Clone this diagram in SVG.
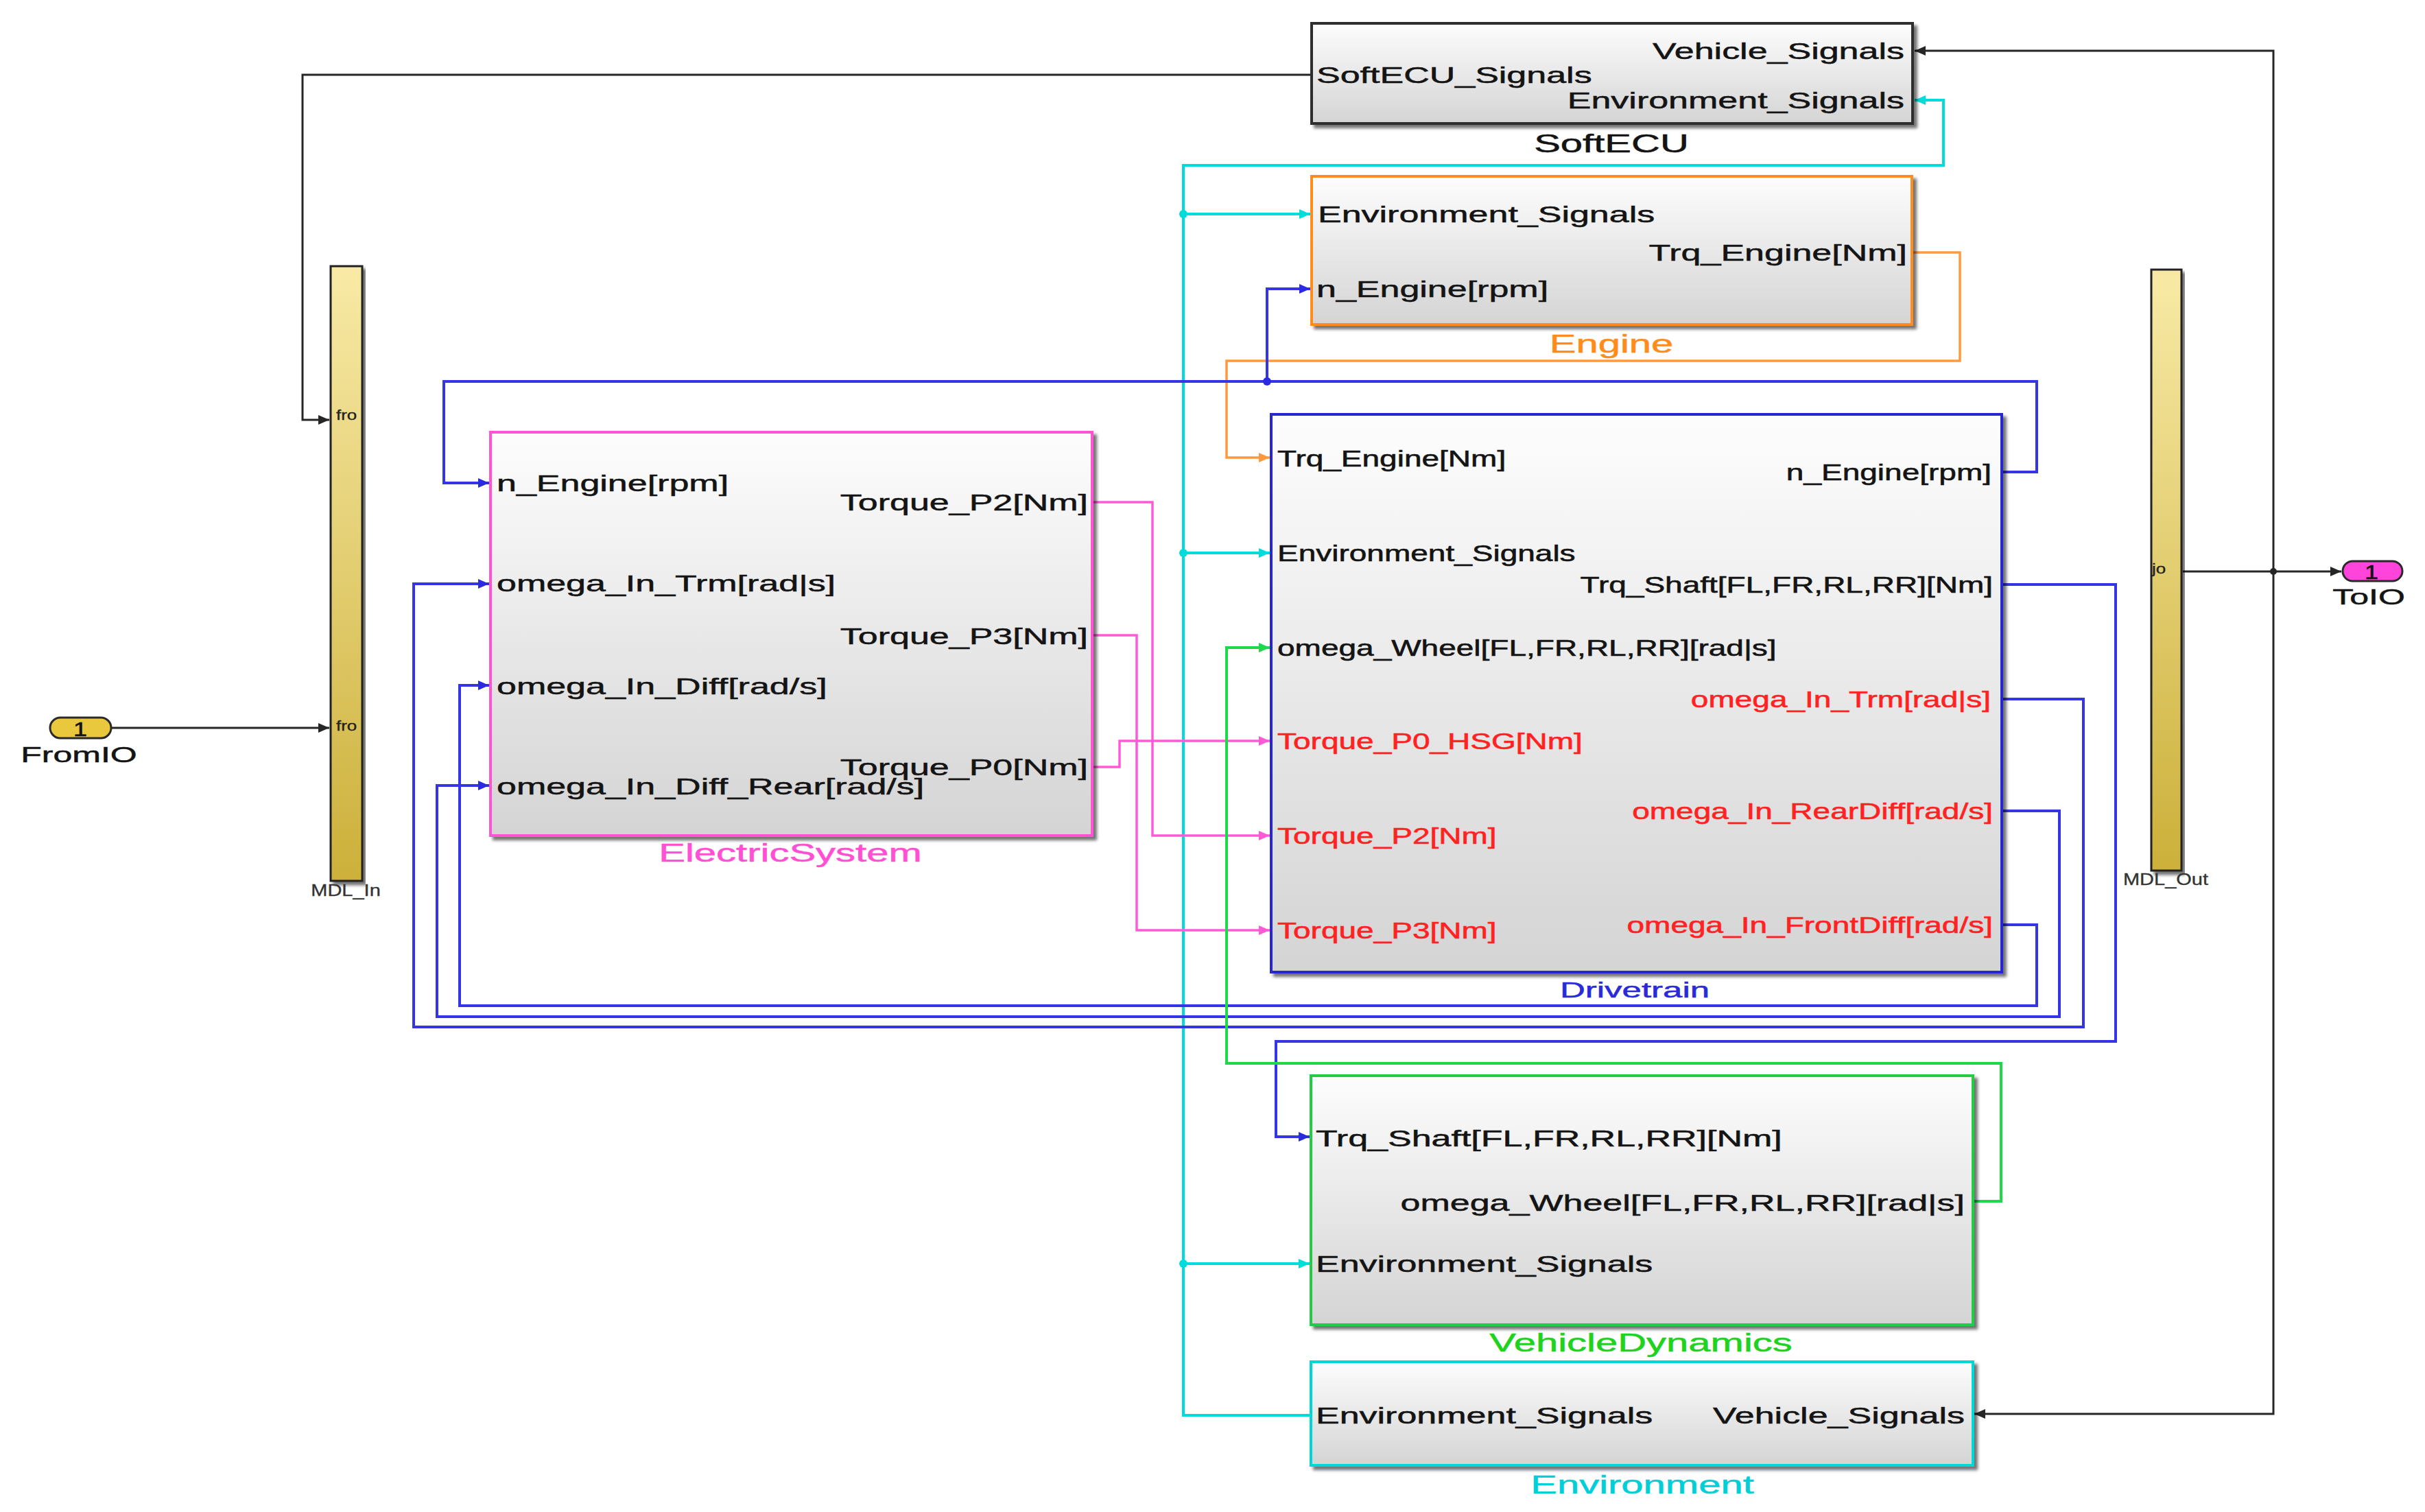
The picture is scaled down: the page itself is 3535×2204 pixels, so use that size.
<svg xmlns="http://www.w3.org/2000/svg" width="3535" height="2204" viewBox="0 0 3535 2204">
<style>
text{font-family:"Liberation Sans",Arial,sans-serif;fill:#141414;stroke:#141414;stroke-width:0.8}
.l{font-size:52px}
.d{font-size:46px}
.ti{font-size:58px}
.e{text-anchor:end}
.m{text-anchor:middle}
.red{fill:#ff2222;stroke:#ff2222}
.blk{fill:url(#gb);stroke-width:4}
.bar{fill:url(#gy);stroke:#222;stroke-width:3}
.w{fill:none;stroke-linejoin:miter}
.k{stroke:#262626;stroke-width:3}
.c{stroke:#00dcdc;stroke-width:4}
.o{stroke:#ff9a3c;stroke-width:3.5}
.b{stroke:#3535e6;stroke-width:4}
.p{stroke:#ff5ad6;stroke-width:3.5}
.g{stroke:#1ed84a;stroke-width:4}
.sm{font-size:29px;fill:#333;stroke:#333;stroke-width:0.4}
.pt{font-size:26px;fill:#222;stroke-width:0.4}
</style>
<defs>
<linearGradient id="gb" x1="0" y1="0" x2="0" y2="1"><stop offset="0" stop-color="#fdfdfd"/><stop offset="1" stop-color="#d4d4d4"/></linearGradient>
<linearGradient id="gy" x1="0" y1="0" x2="0" y2="1"><stop offset="0" stop-color="#f8eaa6"/><stop offset="1" stop-color="#ccb03a"/></linearGradient>
<filter id="sh" x="-5%" y="-5%" width="115%" height="115%"><feDropShadow dx="5" dy="5" stdDeviation="2" flood-color="#000" flood-opacity="0.55"/></filter>
<marker id="ak" markerUnits="userSpaceOnUse" markerWidth="18" markerHeight="14" refX="16" refY="7" orient="auto"><path d="M0,0 L16,7 L0,14 z" fill="#262626"/></marker>
<marker id="ac" markerUnits="userSpaceOnUse" markerWidth="18" markerHeight="14" refX="16" refY="7" orient="auto"><path d="M0,0 L16,7 L0,14 z" fill="#00dcdc"/></marker>
<marker id="ao" markerUnits="userSpaceOnUse" markerWidth="18" markerHeight="14" refX="16" refY="7" orient="auto"><path d="M0,0 L16,7 L0,14 z" fill="#ff9a3c"/></marker>
<marker id="ab" markerUnits="userSpaceOnUse" markerWidth="18" markerHeight="14" refX="16" refY="7" orient="auto"><path d="M0,0 L16,7 L0,14 z" fill="#2a2ae0"/></marker>
<marker id="ap" markerUnits="userSpaceOnUse" markerWidth="18" markerHeight="14" refX="16" refY="7" orient="auto"><path d="M0,0 L16,7 L0,14 z" fill="#ff5ad6"/></marker>
<marker id="ag" markerUnits="userSpaceOnUse" markerWidth="18" markerHeight="14" refX="16" refY="7" orient="auto"><path d="M0,0 L16,7 L0,14 z" fill="#1ed84a"/></marker>
</defs>
<rect width="3535" height="2204" fill="#fff"/>

<g id="connectors">
<path class="w k" d="M162,1061 H480" marker-end="url(#ak)"/>
<path class="w k" d="M1912,109 H441 V612 H480" marker-end="url(#ak)"/>
<path class="w k" d="M3182,833 H3413" marker-end="url(#ak)"/>
<path class="w k" d="M3314,833 V74 H2791" marker-end="url(#ak)"/>
<path class="w k" d="M3314,833 V2061 H2878" marker-end="url(#ak)"/>
<circle cx="3314" cy="833" r="5" fill="#262626"/>

<path class="w c" d="M1911,2063 H1725 V241 H2833 V146 H2791" marker-end="url(#ac)"/>
<path class="w c" d="M1725,312 H1910" marker-end="url(#ac)"/>
<path class="w c" d="M1725,806 H1851" marker-end="url(#ac)"/>
<path class="w c" d="M1725,1842 H1909" marker-end="url(#ac)"/>
<circle cx="1725" cy="312" r="6" fill="#00dcdc"/>
<circle cx="1725" cy="806" r="6" fill="#00dcdc"/>
<circle cx="1725" cy="1842" r="6" fill="#00dcdc"/>

<path class="w o" d="M2787,368 H2857 V526 H1788 V667 H1851" marker-end="url(#ao)"/>

<path class="w b" d="M2918,688 H2969 V556 H647 V704 H713" marker-end="url(#ab)"/>
<path class="w b" d="M1847,556 V421 H1910" marker-end="url(#ab)"/>
<circle cx="1847" cy="556" r="6" fill="#2a2ae0"/>
<path class="w b" d="M2918,852 H3084 V1518 H1860 V1657 H1909" marker-end="url(#ab)"/>
<path class="w b" d="M2918,1019 H3037 V1497 H603 V851 H713" marker-end="url(#ab)"/>
<path class="w b" d="M2918,1182 H3002 V1482 H637 V1145 H713" marker-end="url(#ab)"/>
<path class="w b" d="M2918,1348 H2969 V1466 H670 V999 H713" marker-end="url(#ab)"/>

<path class="w p" d="M1592,732 H1680 V1218 H1851" marker-end="url(#ap)"/>
<path class="w p" d="M1592,926 H1657 V1356 H1851" marker-end="url(#ap)"/>
<path class="w p" d="M1592,1118 H1632 V1080 H1851" marker-end="url(#ap)"/>

<path class="w g" d="M2876,1751 H2917 V1550 H1788 V944 H1851" marker-end="url(#ag)"/>
</g>

<g id="FromIO">
<rect x="73" y="1046" width="89" height="30" rx="15" fill="#e9c83e" stroke="#2a2a2a" stroke-width="3"/>
<text class="m" font-size="36" transform="translate(117 1073) scale(1 0.8)">1</text>
<text class="m" font-size="50" transform="translate(115 1111) scale(1 0.64)">FromIO</text>
</g>

<g id="ToIO">
<rect x="3415" y="818" width="87" height="29" rx="14.5" fill="#ff44dc" stroke="#2a2a2a" stroke-width="3"/>
<text class="m" font-size="36" transform="translate(3457 844) scale(1 0.8)">1</text>
<text class="m" font-size="50" transform="translate(3453 881) scale(1 0.64)">ToIO</text>
</g>

<g id="MDL_In">
<rect class="bar" x="482" y="388" width="46" height="896" filter="url(#sh)"/>
<text class="pt" transform="translate(490 612) scale(1 0.8)">fro</text>
<text class="pt" transform="translate(490 1065) scale(1 0.8)">fro</text>
<text class="sm m" transform="translate(504 1306) scale(1 0.8)">MDL_In</text>
</g>

<g id="MDL_Out">
<rect class="bar" x="3136" y="393" width="44" height="876" filter="url(#sh)"/>
<text class="pt" transform="translate(3137 836) scale(1 0.8)">jo</text>
<text class="sm m" transform="translate(3157 1290) scale(1 0.8)">MDL_Out</text>
</g>

<g id="SoftECU">
<rect class="blk" x="1912" y="34" width="876" height="146" stroke="#2e2e2e" filter="url(#sh)"/>
<text class="l e" transform="translate(2776 86) scale(1 0.64)">Vehicle_Signals</text>
<text class="l" transform="translate(1919 121) scale(1 0.64)">SoftECU_Signals</text>
<text class="l e" transform="translate(2776 158) scale(1 0.64)">Environment_Signals</text>
<text class="ti m" transform="translate(2349 222) scale(1 0.63)">SoftECU</text>
</g>

<g id="Engine">
<rect class="blk" x="1912" y="257" width="875" height="216" stroke="#ff8c1e" filter="url(#sh)"/>
<text class="l" transform="translate(1921 324) scale(1 0.64)">Environment_Signals</text>
<text class="l e" transform="translate(2780 380) scale(1 0.64)">Trq_Engine[Nm]</text>
<text class="l" transform="translate(1919 433) scale(1 0.64)">n_Engine[rpm]</text>
<text class="ti m" style="fill:#ff8c1a;stroke:#ff8c1a" transform="translate(2349 514) scale(1 0.63)">Engine</text>
</g>

<g id="ElectricSystem">
<rect class="blk" x="715" y="630" width="877" height="588" stroke="#ff52d4" filter="url(#sh)"/>
<text class="l" transform="translate(724 716) scale(1 0.64)">n_Engine[rpm]</text>
<text class="l" transform="translate(724 862) scale(1 0.64)">omega_In_Trm[rad|s]</text>
<text class="l" transform="translate(724 1012) scale(1 0.64)">omega_In_Diff[rad/s]</text>
<text class="l" transform="translate(724 1158) scale(1 0.64)">omega_In_Diff_Rear[rad/s]</text>
<text class="l e" transform="translate(1586 744) scale(1 0.64)">Torque_P2[Nm]</text>
<text class="l e" transform="translate(1586 939) scale(1 0.64)">Torque_P3[Nm]</text>
<text class="l e" transform="translate(1586 1130) scale(1 0.64)">Torque_P0[Nm]</text>
<text class="ti m" style="fill:#ff50d4;stroke:#ff50d4" transform="translate(1152 1256) scale(1 0.63)">ElectricSystem</text>
</g>

<g id="Drivetrain">
<rect class="blk" x="1853" y="604" width="1065" height="813" stroke="#2828d2" filter="url(#sh)"/>
<text class="d" transform="translate(1862 680) scale(1 0.73)">Trq_Engine[Nm]</text>
<text class="d e" transform="translate(2903 700) scale(1 0.73)">n_Engine[rpm]</text>
<text class="d" transform="translate(1862 818) scale(1 0.73)">Environment_Signals</text>
<text class="d e" transform="translate(2905 864) scale(1 0.73)">Trq_Shaft[FL,FR,RL,RR][Nm]</text>
<text class="d" transform="translate(1862 956) scale(1 0.73)">omega_Wheel[FL,FR,RL,RR][rad|s]</text>
<text class="d e red" transform="translate(2902 1031) scale(1 0.73)">omega_In_Trm[rad|s]</text>
<text class="d red" transform="translate(1862 1092) scale(1 0.73)">Torque_P0_HSG[Nm]</text>
<text class="d e red" transform="translate(2905 1194) scale(1 0.73)">omega_In_RearDiff[rad/s]</text>
<text class="d red" transform="translate(1862 1230) scale(1 0.73)">Torque_P2[Nm]</text>
<text class="d e red" transform="translate(2905 1360) scale(1 0.73)">omega_In_FrontDiff[rad/s]</text>
<text class="d red" transform="translate(1862 1368) scale(1 0.73)">Torque_P3[Nm]</text>
<text class="m" font-size="51" style="fill:#2a2ad8;stroke:#2a2ad8" transform="translate(2383 1454) scale(1 0.6)">Drivetrain</text>
</g>

<g id="VehicleDynamics">
<rect class="blk" x="1911" y="1568" width="965" height="363" stroke="#22cc44" filter="url(#sh)"/>
<text class="l" transform="translate(1918 1671) scale(1 0.64)">Trq_Shaft[FL,FR,RL,RR][Nm]</text>
<text class="l e" transform="translate(2864 1765) scale(1 0.64)">omega_Wheel[FL,FR,RL,RR][rad|s]</text>
<text class="l" transform="translate(1918 1854) scale(1 0.64)">Environment_Signals</text>
<text class="ti m" style="fill:#1ed21e;stroke:#1ed21e" transform="translate(2392 1970) scale(1 0.63)">VehicleDynamics</text>
</g>

<g id="Environment">
<rect class="blk" x="1911" y="1985" width="965" height="151" stroke="#00d6d6" filter="url(#sh)"/>
<text class="l" transform="translate(1918 2075) scale(1 0.64)">Environment_Signals</text>
<text class="l e" transform="translate(2864 2075) scale(1 0.64)">Vehicle_Signals</text>
<text class="ti m" style="fill:#00cfd8;stroke:#00cfd8" transform="translate(2394 2177) scale(1 0.63)">Environment</text>
</g>
</svg>
